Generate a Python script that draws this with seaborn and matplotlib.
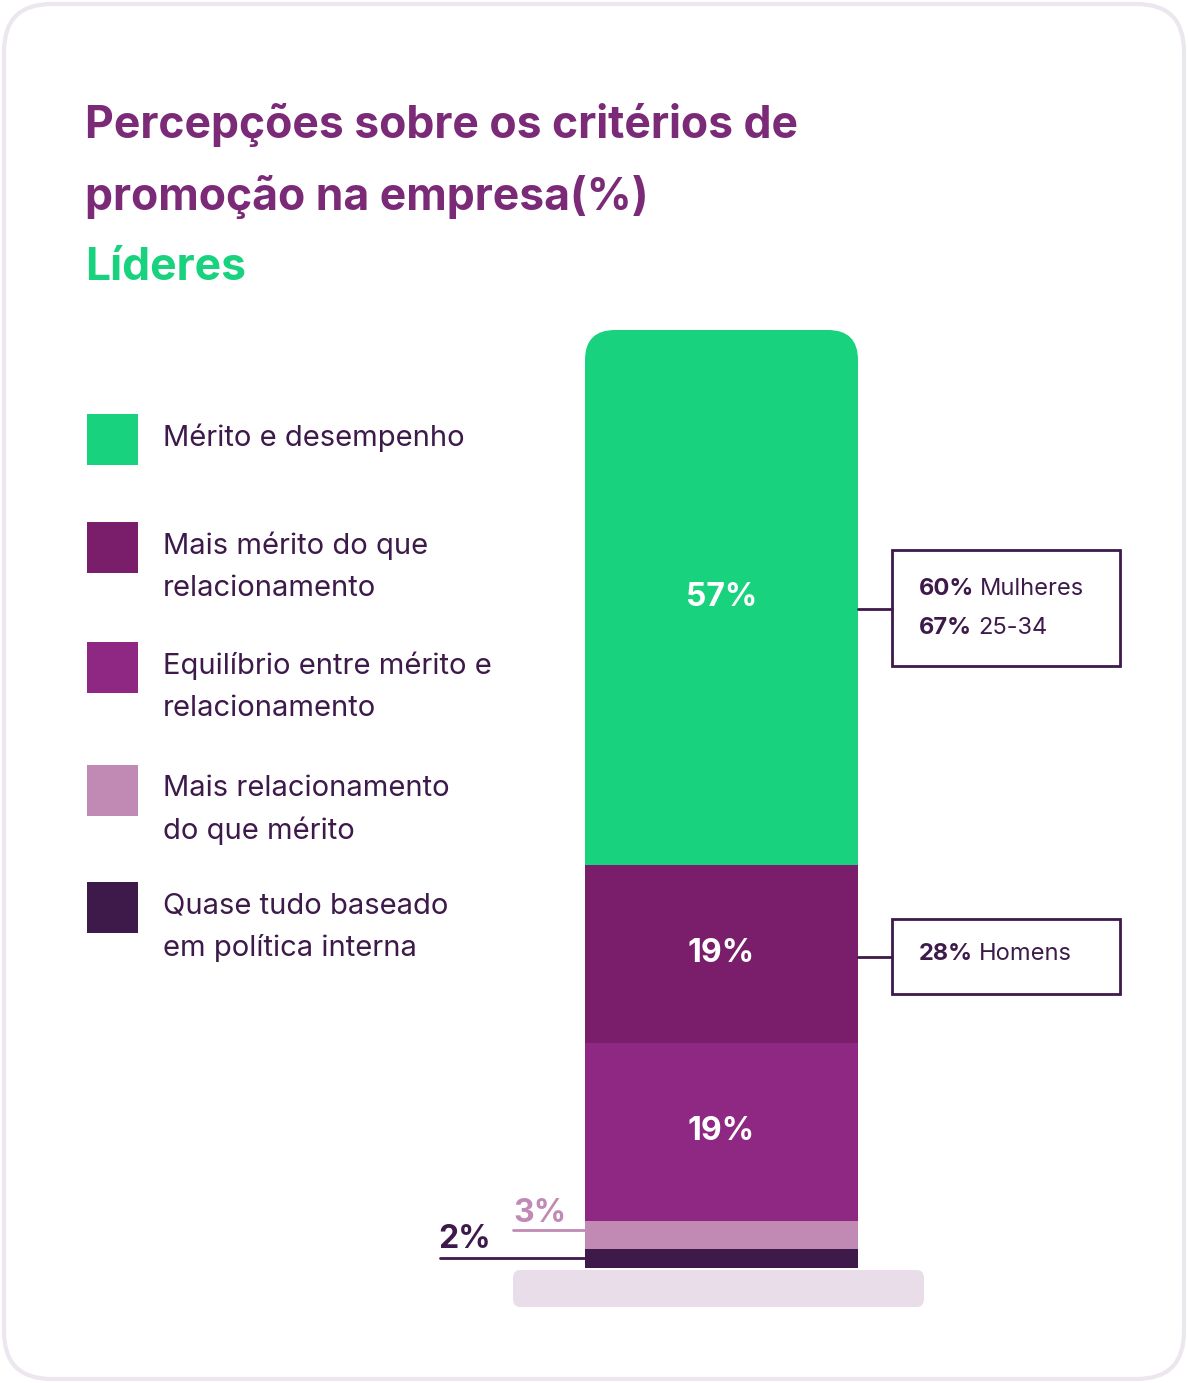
import matplotlib
matplotlib.use("Agg")
import matplotlib.pyplot as plt
import seaborn as sns
import numpy as np
from matplotlib.patches import FancyBboxPatch, Rectangle

categories = ["Mérito e desempenho", "Mais mérito do que\nrelacionamento",
              "Equilíbrio entre mérito e\nrelacionamento", "Mais relacionamento\ndo que mérito",
              "Quase tudo baseado\nem política interna"]
values = [57, 19, 19, 3, 2]
labels = ["57%", "19%", "19%", "3%", "2%"]
colors = ["#18d27e", "#7a1e6c", "#8e2882", "#c08ab4", "#3d1a4a"]

sns.set_theme(style="white")
plt.rcParams['font.family'] = ['Inter', 'DejaVu Sans']
W, H = 1188, 1383
fig = plt.figure(figsize=(W/100, H/100), dpi=100)
fig.patch.set_facecolor("white")

def fy(y): return 1 - y/H
def fx(x): return x/W

card = FancyBboxPatch((fx(4), fy(1379)), fx(1180), 1375/H, boxstyle="round,pad=0,rounding_size=0.04",
                      transform=fig.transFigure, facecolor="white", edgecolor="#ece6ee", linewidth=3,
                      mutation_aspect=W/H, zorder=-10)
fig.patches.append(card)

fig.text(fx(85), fy(125), "Percepções sobre os critérios de", color="#7b2a78",
         fontsize=32, fontweight="bold", va="center", ha="left")
fig.text(fx(85), fy(197), "promoção na empresa(%)", color="#7b2a78",
         fontsize=32, fontweight="bold", va="center", ha="left")
fig.text(fx(85), fy(268), "Líderes", color="#18d27e", fontsize=32, fontweight="bold", va="center")

# legend
leg_y = [439, 547, 667, 790, 907]
for c, lab, y in zip(colors, categories, leg_y):
    fig.patches.append(Rectangle((fx(87), fy(y+26)), 51/W, 51/H, transform=fig.transFigure,
                                 facecolor=c, edgecolor="none", zorder=1))
    for i, line in enumerate(lab.split("\n")):
        fig.text(fx(163), fy(y - 1 + i*42), line, fontsize=21, color="#3d1a4a", va="center")

# base plate
fig.patches.append(FancyBboxPatch((fx(513), fy(1307)), 411/W, 37/H, boxstyle="round,pad=0,rounding_size=0.006",
                                  transform=fig.transFigure, facecolor="#e8dde9", edgecolor="none", zorder=-5))

ax = fig.add_axes([fx(585), fy(1268), 273/W, 938/H])
cum = np.cumsum(values[::-1])[::-1]
for top, c in zip(cum, colors):
    sns.barplot(x=["a"], y=[top], color=c, width=1.0, ax=ax, saturation=1, edgecolor="none", linewidth=0)
ax.set_xlim(-0.5, 0.5)
ax.set_ylim(0, 100)
ax.axis("off")
top_patch = ax.patches[0]
clip = FancyBboxPatch((585, H-1000), 273, 1000-330, boxstyle="round,pad=0,rounding_size=30",
                      transform=None, facecolor="none", edgecolor="none")
top_patch.set_clip_path(clip)

bottoms = list(cum[1:]) + [0]
for v, b, l in zip(values[:3], bottoms[:3], labels[:3]):
    ax.text(0, b + v/2, l, color="white", fontsize=23, fontweight="bold", ha="center", va="center")

fig.text(fx(513), fy(1214), labels[3], color="#c08ab4", fontsize=23, fontweight="bold", va="center")
fig.lines.append(plt.Line2D([fx(513), fx(585)], [fy(1230)]*2, transform=fig.transFigure, color="#c08ab4", lw=2))
fig.text(fx(438), fy(1240), labels[4], color="#3d1a4a", fontsize=23, fontweight="bold", va="center")
fig.lines.append(plt.Line2D([fx(440), fx(585)], [fy(1258)]*2, transform=fig.transFigure, color="#3d1a4a", lw=2))

def box(x0, y0, x1, y1, ly):
    fig.patches.append(Rectangle((fx(x0), fy(y1)), (x1-x0)/W, (y1-y0)/H, transform=fig.transFigure,
                                 facecolor="white", edgecolor="#3d1a4a", lw=2, zorder=1))
    fig.lines.append(plt.Line2D([fx(858), fx(x0)], [fy(ly)]*2, transform=fig.transFigure, color="#3d1a4a", lw=2))
box(892, 550, 1120, 666, 609)
box(892, 919, 1120, 994, 957)
def rich(x, y, b, n):
    t = fig.text(fx(x), fy(y), b, fontsize=17, fontweight="bold", color="#3d1a4a", va="center")
    fig.canvas.draw()
    bb = t.get_window_extent()
    fig.text(bb.x1/W + 6/W, fy(y), n, fontsize=17, color="#3d1a4a", va="center")
rich(919, 589, "60%", "Mulheres")
rich(919, 628, "67%", "25-34")
rich(919, 954, "28%", "Homens")

fig.savefig("out.png", dpi=100, facecolor="white")
